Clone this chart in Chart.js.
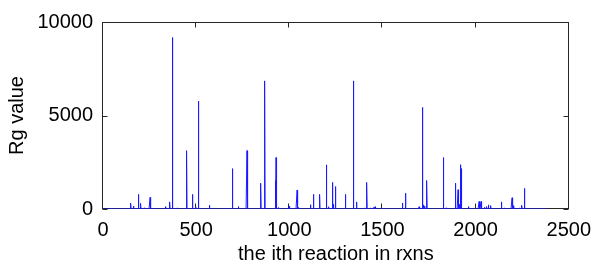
<!DOCTYPE html>
<html><head><meta charset="utf-8">
<script src="https://cdn.jsdelivr.net/npm/chart.js@4.4.0/dist/chart.umd.min.js"></script>
<style>html,body{margin:0;padding:0;background:#fff}#wrap{width:600px;height:268px}</style>
</head><body><div id="wrap"><canvas id="c" width="600" height="268"></canvas></div>
<script>
// ---- data ----
const nReactions = 2385;
const spikeIndex = [150,165,189,203,221,253,265,338,359,373,402,450,479,499,513,573,667,695,727,773,848,869,925,929,943,999,1042,1049,1113,1131,1164,1198,1212,1233,1237,1247,1300,1343,1360,1403,1417,1435,1453,1460,1608,1623,1697,1714,1721,1728,1739,1828,1842,1891,1906,1916,1920,1923,1962,2019,2029,2047,2058,2068,2082,2139,2157,2196,2206,2235,2249,2261];
const spikeValue = [320,160,780,300,60,620,50,130,380,9170,60,3120,780,150,5770,200,40,2160,130,3120,1380,6850,1520,2750,80,150,1010,80,230,780,780,2360,120,1420,250,1200,780,6850,380,60,1420,60,80,120,320,840,120,5430,220,150,1520,2750,60,1380,1030,250,2370,2160,130,400,400,90,130,220,180,380,60,600,180,60,200,1100];
const xTicks = [0,500,1000,1500,2000,2500];
const yTicks = [0,5000,10000];
const xLabel = 'the ith reaction in rxns';
const yLabel = 'Rg value';

// full series: value at each reaction index (zero where no spike is visible)
const lookup = new Map(spikeIndex.map((x,i)=>[x,spikeValue[i]]));
const points = [];
for (let i=1;i<=nReactions;i++) points.push({x:i, y: lookup.has(i) ? lookup.get(i) : 0});

const FONT = {family:'"Liberation Sans", Arial, Helvetica, sans-serif', size:20};

const boxPlugin = {
  id:'box',
  beforeDatasetsDraw(chart){
    const {ctx, chartArea:a, scales:{x,y}} = chart;
    ctx.save();
    ctx.strokeStyle = '#262626';
    ctx.lineWidth = 1;
    const L = Math.round(a.left)-0.5, R = Math.round(a.right)-0.5, T = Math.round(a.top)+0.5, B = Math.round(a.bottom)-0.5;
    ctx.strokeRect(L, T, R-L, B-T);
    ctx.beginPath();
    const tl = 5;
    xTicks.forEach(v=>{
      const px = Math.round(x.getPixelForValue(v))-0.5;
      ctx.moveTo(px,B); ctx.lineTo(px,B-tl);
      ctx.moveTo(px,T); ctx.lineTo(px,T+tl);
    });
    yTicks.forEach(v=>{
      const py = Math.round(y.getPixelForValue(v))+0.5;
      ctx.moveTo(L,py); ctx.lineTo(L+tl,py);
      ctx.moveTo(R,py); ctx.lineTo(R-tl,py);
    });
    ctx.stroke();
    ctx.restore();
  }
};

new Chart(document.getElementById('c'), {
  type:'line',
  data:{datasets:[{data:points, borderColor:'#1a1aff', borderWidth:1, pointRadius:0, tension:0, fill:false}]},
  options:{
    responsive:false, animation:false, parsing:false, normalized:true,
    layout:{padding:{top:12,right:26,left:0,bottom:0}},
    plugins:{legend:{display:false}, tooltip:{enabled:false}},
    scales:{
      x:{type:'linear', min:0, max:2500,
        afterBuildTicks:s=>{s.ticks = xTicks.map(v=>({value:v}));},
        afterFit:s=>{s.height = 59;},
        grid:{display:false, drawTicks:false}, border:{display:false},
        ticks:{font:FONT, color:'#000', padding:9, maxRotation:0, autoSkip:false, callback:v=>String(v)},
        title:{display:true, text:xLabel, font:FONT, color:'#000', padding:{top:0,bottom:2}}
      },
      y:{type:'linear', min:0, max:10000,
        afterBuildTicks:s=>{s.ticks = yTicks.map(v=>({value:v}));},
        afterFit:s=>{s.width = 103;},
        grid:{display:false, drawTicks:false}, border:{display:false},
        ticks:{font:FONT, color:'#000', padding:10, callback:v=>String(v)},
        title:{display:true, text:yLabel, font:FONT, color:'#000', padding:{top:5,bottom:0}}
      }
    }
  },
  plugins:[boxPlugin]
});
</script></body></html>
